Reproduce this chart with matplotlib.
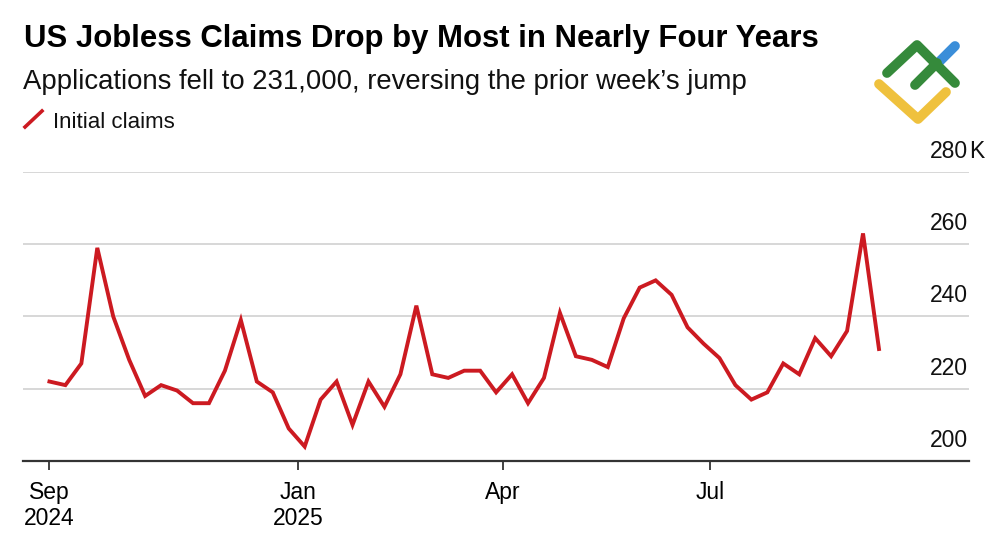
import pandas as pd
import matplotlib
matplotlib.use("Agg")
import matplotlib.pyplot as plt
import matplotlib.transforms as mtransforms
from matplotlib.lines import Line2D

plt.rcParams['font.family'] = ['Liberation Sans', 'DejaVu Sans']

# Weekly initial jobless claims, thousands (week ending)
week_start = '2024-09-14'
claims = [222, 221, 227, 259, 240, 228, 218, 221, 219.5, 216, 216, 225, 239,
          222, 219, 209, 204, 217, 222, 210, 222, 215, 224, 243, 224, 223,
          225, 225, 219, 224, 216, 223, 241, 229, 228, 226, 239.5, 248, 250,
          246, 237, 232.5, 228.5, 221, 217, 219, 227, 224, 234, 229, 236,
          263, 231]
dates = pd.date_range(week_start, periods=len(claims), freq='7D')

tick_dates = ['2024-09-14', '2025-01-01', '2025-04-01', '2025-07-01']
tick_labels = ['Sep\n2024', 'Jan\n2025', 'Apr', 'Jul']
y_ticks = [200, 220, 240, 260, 280]
y_unit = 'K'

title = 'US Jobless Claims Drop by Most in Nearly Four Years'
subtitle = 'Applications fell to 231,000, reversing the prior week\u2019s jump'
series_name = 'Initial claims'

W, H = 1000, 545
fig = plt.figure(figsize=(W / 100, H / 100), dpi=100)
ax = fig.add_axes([23 / W, 1 - 461 / H, (969 - 23) / W, (461 - 172) / H])

red = '#cc1a21'
ax.plot(dates, claims, color=red, lw=2.8, solid_joinstyle='miter')

ax.set_ylim(200, 280)
ax.set_xlim(pd.Timestamp(week_start) - pd.Timedelta(days=11.6),
            dates[-1] + pd.Timedelta(days=39.5))

# grid + axis styling
ax.set_yticks(y_ticks)
ax.yaxis.grid(True, color='#d4d4d4', lw=1.3)
ax.tick_params(axis='y', length=0, labelleft=False)
for s in ['top', 'right', 'left']:
    ax.spines[s].set_visible(False)
ax.spines['bottom'].set_color('#333333')
ax.spines['bottom'].set_linewidth(1.6)
ax.set_axisbelow(True)

ax.set_xticks(pd.to_datetime(tick_dates))
ax.set_xticklabels(tick_labels, fontsize=16.5, linespacing=1.15)
ax.tick_params(axis='x', length=6.5, width=1.3, color='#333333', pad=8)

# y labels sit above the gridlines on the right, unit hangs past the edge
trans = mtransforms.blended_transform_factory(ax.transAxes, ax.transData)
trans = mtransforms.offset_copy(trans, fig=fig, x=-1, y=14, units='dots')
for v in y_ticks:
    ax.text(1, v, str(v), transform=trans, ha='right', va='baseline',
            fontsize=16.5, color='#111111')
unit_trans = mtransforms.offset_copy(trans, fig=fig, x=1, y=0, units='dots')
ax.text(1, y_ticks[-1], y_unit, transform=unit_trans, ha='left',
        va='baseline', fontsize=16.5, color='#111111')

# headings
fig.text(24 / W, 1 - 46.7 / H, title, fontsize=22.4, fontweight='bold',
         va='baseline', ha='left', color='#000000')
fig.text(23 / W, 1 - 89.3 / H, subtitle, fontsize=19.8,
         va='baseline', ha='left', color='#111111')

# legend
fig.add_artist(Line2D([25 / W, 42 / W], [1 - 127 / H, 1 - 111 / H],
                      color=red, lw=2.6, transform=fig.transFigure))
fig.text(53 / W, 1 - 128 / H, series_name, fontsize=16,
         va='baseline', ha='left', color='#111111')

# logo watermark
def stroke(pts, color):
    xs = [p[0] / W for p in pts]
    ys = [1 - p[1] / H for p in pts]
    fig.add_artist(Line2D(xs, ys, color=color, lw=7, solid_capstyle='round',
                          solid_joinstyle='round', transform=fig.transFigure))

stroke([(879, 84), (918, 119), (946, 92)], '#efc13d')
stroke([(938, 63), (955, 46)], '#3b8ed9')
stroke([(887, 73), (917, 45), (955, 83)], '#358a3b')
stroke([(915, 85), (937, 63)], '#358a3b')

fig.savefig('out.png', dpi=100, facecolor='white')
